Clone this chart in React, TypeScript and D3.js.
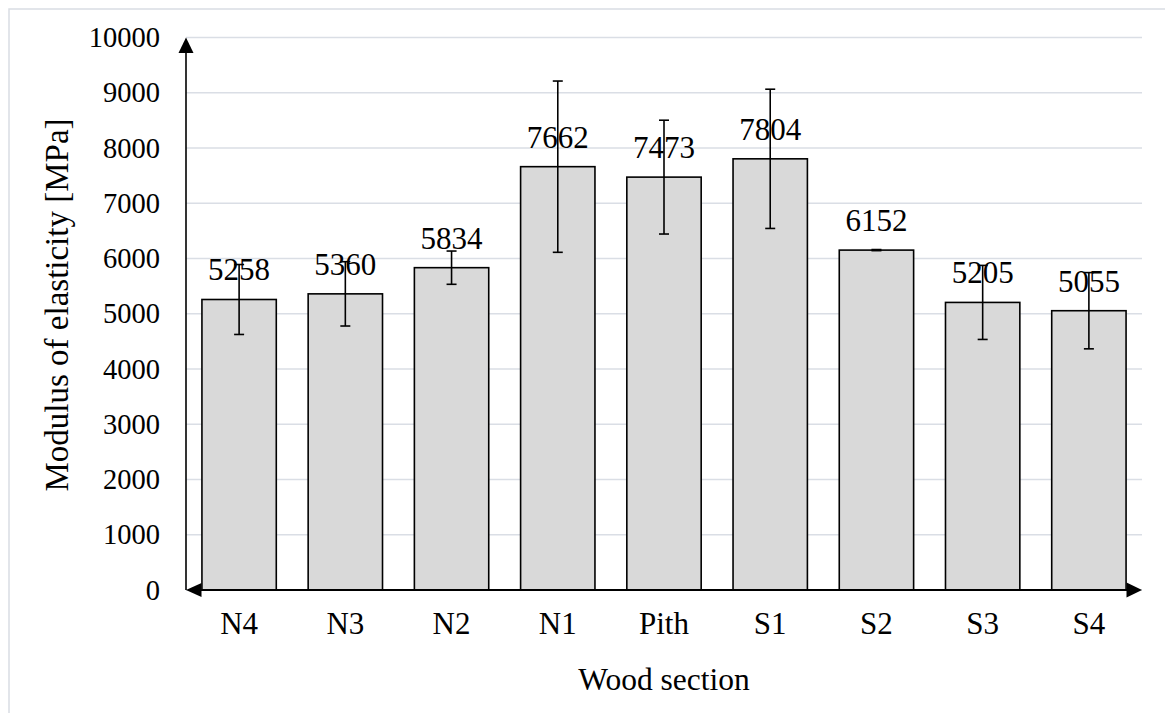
import React from 'react';
import * as d3 from 'd3';

// data
const sections = ['N4', 'N3', 'N2', 'N1', 'Pith', 'S1', 'S2', 'S3', 'S4'];
const modulus = [5258, 5360, 5834, 7662, 7473, 7804, 6152, 5205, 5055];
const stdDev = [633, 582, 301, 1550, 1030, 1260, 10, 670, 690];
const yTicks = [0, 1000, 2000, 3000, 4000, 5000, 6000, 7000, 8000, 9000, 10000];

const W = 1165;
const H = 713;
const serif = { fontFamily: "'Liberation Serif', serif" };

const App = () => {
  const x = d3.scaleBand<string>()
    .domain(sections)
    .range([186, 1142])
    .paddingInner(0.3)
    .paddingOuter(0.15);

  const y = d3.scaleLinear().domain([0, 10000]).range([590, 37.5]);

  const x0 = 186;
  const x1 = 1142;
  const y0 = y(0);
  const yTop = y(10000);
  const capW = 10;

  return (
    <svg width={W} height={H} style={{ position: 'absolute', left: 0, top: 0 }}>
      <rect x={0} y={0} width={W} height={H} fill="#ffffff" />
      <rect x={9} y={9} width={W + 20} height={H + 20} fill="none" stroke="#d9dde3" strokeWidth={1.5} />

      {/* gridlines */}
      {yTicks.map(t => (
        <line key={'g' + t} x1={x0} x2={x1} y1={y(t)} y2={y(t)} stroke="#dadee5" strokeWidth={1.5} />
      ))}

      {/* y tick labels */}
      {yTicks.map(t => (
        <text key={'t' + t} x={160} y={y(t)} dy="0.34em" textAnchor="end" fontSize={28.5} fill="#000" style={serif}>
          {t}
        </text>
      ))}

      {/* bars */}
      {sections.map((s, i) => (
        <rect
          key={'b' + s}
          x={x(s)}
          y={y(modulus[i])}
          width={x.bandwidth()}
          height={y0 - y(modulus[i])}
          fill="#d9d9d9"
          stroke="#000"
          strokeWidth={1.6}
        />
      ))}

      {/* value labels */}
      {sections.map((s, i) => (
        <text
          key={'v' + s}
          x={(x(s) as number) + x.bandwidth() / 2}
          y={y(modulus[i]) - 19}
          textAnchor="middle"
          fontSize={31}
          fill="#000"
          style={serif}
        >
          {modulus[i]}
        </text>
      ))}

      {/* error bars */}
      {sections.map((s, i) => {
        const cx = (x(s) as number) + x.bandwidth() / 2;
        const hi = y(modulus[i] + stdDev[i]);
        const lo = y(modulus[i] - stdDev[i]);
        return (
          <g key={'e' + s} stroke="#000" strokeWidth={1.6}>
            <line x1={cx} x2={cx} y1={hi} y2={lo} />
            <line x1={cx - capW / 2} x2={cx + capW / 2} y1={hi} y2={hi} />
            <line x1={cx - capW / 2} x2={cx + capW / 2} y1={lo} y2={lo} />
          </g>
        );
      })}

      {/* axes with arrow heads */}
      <line x1={x0} x2={x0} y1={y0} y2={yTop + 14} stroke="#000" strokeWidth={1.6} />
      <path d={`M${x0},${yTop} L${x0 - 7.5},${yTop + 15.5} L${x0 + 7.5},${yTop + 15.5} Z`} fill="#000" />
      <line x1={x0 + 14} x2={x1 - 14} y1={y0} y2={y0} stroke="#000" strokeWidth={2} />
      <path d={`M${x1},${y0} L${x1 - 15.5},${y0 - 7.5} L${x1 - 15.5},${y0 + 7.5} Z`} fill="#000" />
      <path d={`M${x0},${y0} L${x0 + 15.5},${y0 - 7} L${x0 + 15.5},${y0 + 7} Z`} fill="#000" />

      {/* category labels */}
      {sections.map(s => (
        <text
          key={'c' + s}
          x={(x(s) as number) + x.bandwidth() / 2}
          y={634}
          textAnchor="middle"
          fontSize={31}
          fill="#000"
          style={serif}
        >
          {s}
        </text>
      ))}

      {/* axis titles */}
      <text x={(x0 + x1) / 2} y={690} textAnchor="middle" fontSize={31.5} fill="#000" style={serif}>
        Wood section
      </text>
      <text
        transform={`translate(68,305) rotate(-90)`}
        textAnchor="middle"
        fontSize={33}
        fill="#000"
        style={serif}
      >
        Modulus of elasticity [MPa]
      </text>
    </svg>
  );
};

export default App;
